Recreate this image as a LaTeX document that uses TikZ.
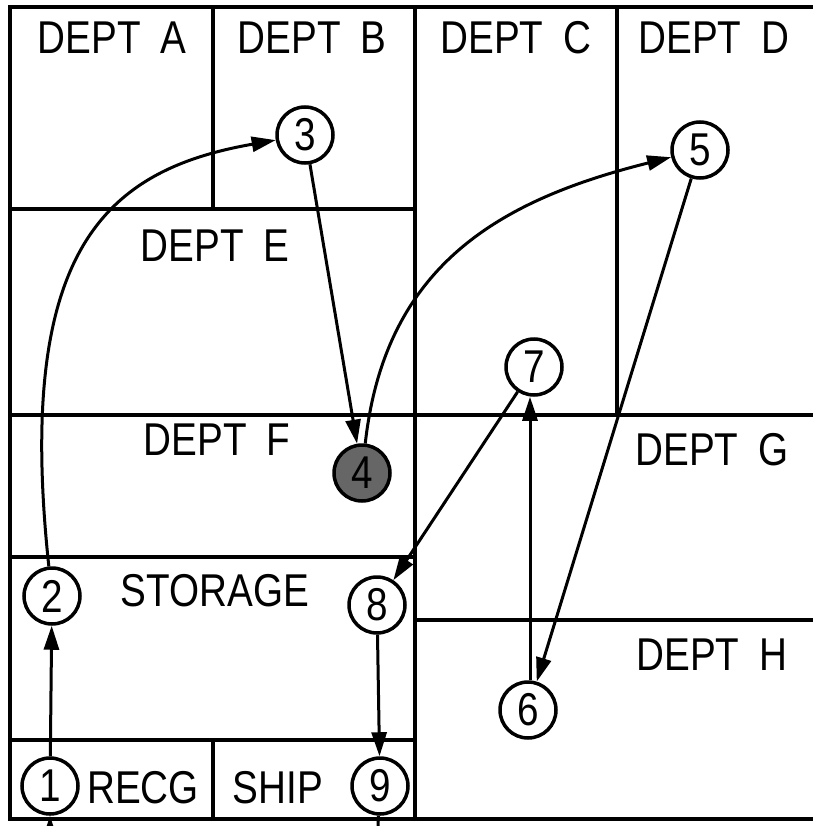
\documentclass[tikz,border=0pt]{standalone}
\usepackage{fontspec}
\setmainfont{Liberation Sans}[FakeStretch=0.84]
\usetikzlibrary{arrows.meta}
\newcommand\lblfont{\fontsize{46pt}{48pt}\selectfont\spaceskip=20pt plus 2pt}
\tikzset{
  wall/.style={line width=3.5pt, line cap=rect},
  lbl/.style={font=\lblfont, inner sep=0pt},
  stn/.style={circle, draw, line width=3.5pt, minimum size=56pt, inner sep=0pt, font=\lblfont, fill=white},
  stndark/.style={stn, fill=black!60},
  flow/.style={line width=3pt, -{Triangle[length=24pt,width=15pt]}},
  plain/.style={line width=3pt}
}
\begin{document}
\begin{tikzpicture}[x=1pt,y=-1pt]
\useasboundingbox (0,0) rectangle (812,826);
% walls
\draw[wall] (10,7) -- (812,7);
\draw[wall] (10,7) -- (10,819) -- (812,819);
\draw[wall] (213,7) -- (213,209);
\draw[wall] (415,7) -- (415,819);
\draw[wall] (617,7) -- (617,415);
\draw[wall] (10,209) -- (415,209);
\draw[wall] (10,415) -- (812,415);
\draw[wall] (10,557) -- (415,557);
\draw[wall] (415,620) -- (812,620);
\draw[wall] (10,740) -- (415,740);
\draw[wall] (213,740) -- (213,819);
% labels
\node[lbl] (la) at (112,38) {DEPT A};
\node[lbl] (lb) at (312,38) {DEPT B};
\node[lbl] (lc) at (516,38) {DEPT C};
\node[lbl] (ld) at (714,38) {DEPT D};
\node[lbl] (le) at (215,246) {DEPT E};
\node[lbl] (lf) at (217,440) {DEPT F};
\node[lbl] (lg) at (712,450) {DEPT G};
\node[lbl] (lh) at (712,655) {DEPT H};
\node[lbl] (ls) at (215,591) {STORAGE};
\node[lbl] (lr) at (143,788) {RECG};
\node[lbl] (lp) at (278,788) {SHIP};
% stations
\node[stn] (n1) at (50,786) {1};
\node[stn] (n2) at (52,596) {2};
\node[stn] (n3) at (305,135) {3};
\node[stndark] (n4) at (362,473) {4};
\node[stn] (n5) at (700,150) {5};
\node[stn] (n6) at (528,710) {6};
\node[stn] (n7) at (534,367) {7};
\node[stn] (n8) at (377,605) {8};
\node[stn] (n9) at (380,786) {9};
\coordinate (in1) at (50,826);
\coordinate (out9) at (378,826);
% flows
\draw[flow] (in1) -- (n1);
\draw[flow] (n1) -- (n2);
\draw[flow] (n2) .. controls (15,250) and (105,170) .. (n3);
\draw[flow] (n3) -- (n4);
\draw[flow] (n4) .. controls (385,265) and (500,200) .. (n5);
\draw[flow] (n5) -- (n6);
\draw[flow] ([xshift=2pt]n6.north) -- ([xshift=-4pt]n7.south);
\draw[flow] (n7) -- (n8);
\draw[flow] (n8) -- (n9);
\draw[plain] (n9) -- (out9);
\end{tikzpicture}
\end{document}
